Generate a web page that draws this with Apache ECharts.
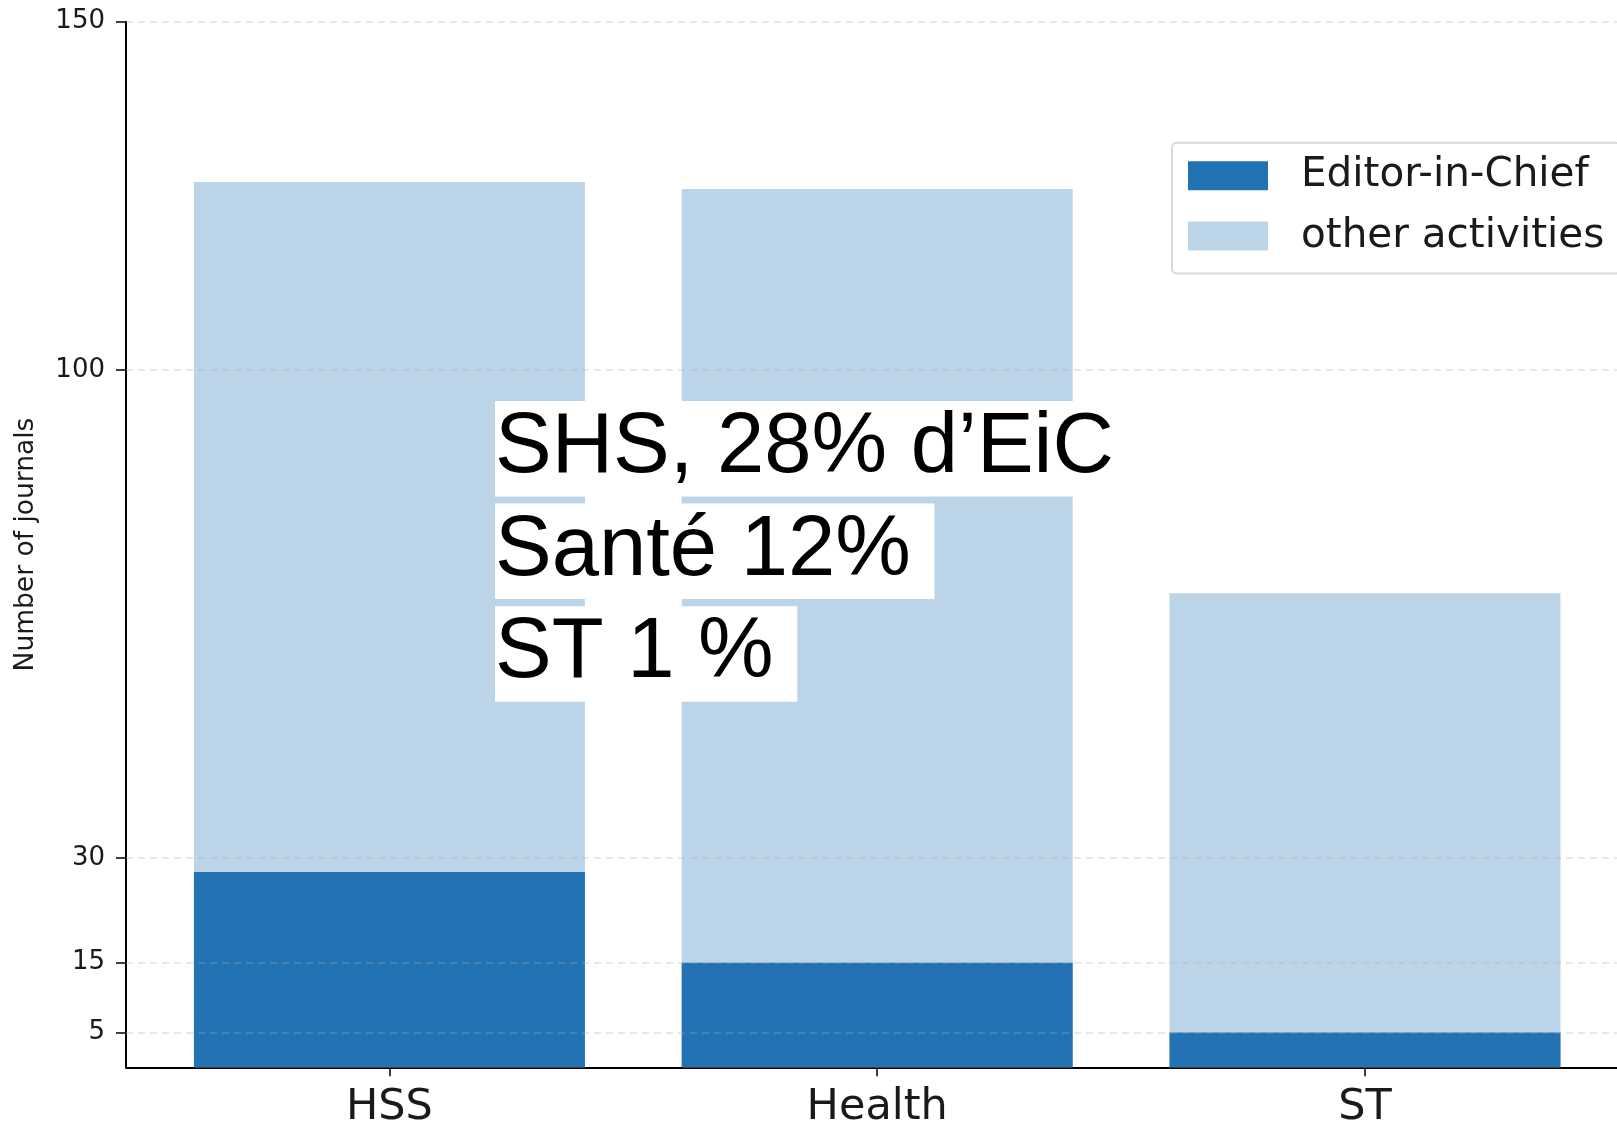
<!DOCTYPE html>
<html>
<head>
<meta charset="utf-8">
<title>Journals</title>
<script src="https://cdn.jsdelivr.net/npm/echarts@6/dist/echarts.min.js"></script>
<style>
    html, body { margin: 0; padding: 0; background: #fff; }
    #chart { width: 1617px; height: 1121px; }
</style>
</head>
<body>
<div id="chart"></div>
<script>
// 数据
var categories = ['HSS', 'Health', 'ST'];
var categoryPos = [0, 1, 2];
var eicJournals = [28, 15, 5];
var totalJournals = [127, 126, 68];
var yTicks = [5, 15, 30, 100, 150];
var noteLines = ['SHS, 28% d\u2019EiC', 'Sant\u00e9 12% ', 'ST 1 % '];

var darkBlue = '#2372b4';
var lightBlue = '#bcd4e8';

function pairs(values) {
    return values.map(function(v, i) { return [categoryPos[i], v]; });
}

// 注释文字
function noteGraphics() {
    return noteLines.map(function(line, i) {
        return {
            type: 'text',
            x: 495,
            y: 401 + i * 102.6,
            z: 100,
            style: {
                text: line,
                font: '85px "Liberation Sans", Arial, sans-serif',
                fill: '#000',
                backgroundColor: '#fff',
                lineHeight: 95.5
            }
        };
    });
}

var chart = echarts.init(document.getElementById('chart'));
chart.setOption({
    animation: false,
    grid: {
        left: 126,
        top: 21.7,
        width: 1502.4,
        height: 1045.6,
        outerBoundsMode: 'none'
    },
    legend: {
        orient: 'vertical',
        left: 1172,
        top: 142.7,
        data: ['Editor-in-Chief', 'other activities'],
        icon: 'rect',
        itemWidth: 80,
        itemHeight: 29,
        itemGap: 19.3,
        padding: [12.5, 16, 17, 16],
        borderColor: '#d8d8d8',
        borderWidth: 2,
        borderRadius: 5,
        backgroundColor: 'rgba(255,255,255,0.8)',
        textStyle: {
            fontFamily: 'DejaVu Sans',
            fontSize: 40.5,
            color: '#1a1a1a',
            padding: [0, 0, 0, 28]
        }
    },
    xAxis: {
        type: 'value',
        min: -0.54,
        max: 2.54,
        axisLine: { onZero: false, lineStyle: { color: '#000', width: 2 } },
        axisTick: { customValues: categoryPos, length: 9, lineStyle: { color: '#000', width: 1.5 } },
        axisLabel: {
            customValues: categoryPos,
            formatter: function(v) { return categories[Math.round(v)]; },
            fontFamily: 'DejaVu Sans',
            fontSize: 43,
            color: '#1a1a1a',
            margin: 19
        },
        splitLine: { show: false }
    },
    yAxis: {
        type: 'value',
        min: 0,
        max: 150,
        name: 'Number of journals',
        nameLocation: 'middle',
        nameGap: 86,
        nameTextStyle: { fontFamily: 'DejaVu Sans', fontSize: 26.5, color: '#1a1a1a' },
        axisLine: { show: true, onZero: false, lineStyle: { color: '#000', width: 2 } },
        axisTick: { show: true, customValues: yTicks, length: 10, lineStyle: { color: '#000', width: 1.5 } },
        axisLabel: {
            customValues: yTicks,
            fontFamily: 'DejaVu Sans',
            fontSize: 26,
            color: '#1a1a1a',
            margin: 21
        },
        splitLine: { show: false }
    },
    series: [
        {
            name: 'other activities',
            type: 'bar',
            barWidth: 391,
            barGap: '-100%',
            itemStyle: { color: lightBlue },
            data: pairs(totalJournals)
        },
        {
            name: 'Editor-in-Chief',
            type: 'bar',
            barWidth: 391,
            barGap: '-100%',
            itemStyle: { color: darkBlue },
            data: pairs(eicJournals),
            markLine: {
                silent: true,
                symbol: 'none',
                label: { show: false },
                lineStyle: { color: 'rgba(176,176,176,0.35)', type: [7, 5], width: 1.5 },
                data: yTicks.map(function(t) { return { yAxis: t }; })
            }
        }
    ],
    graphic: noteGraphics()
});
</script>
</body>
</html>
